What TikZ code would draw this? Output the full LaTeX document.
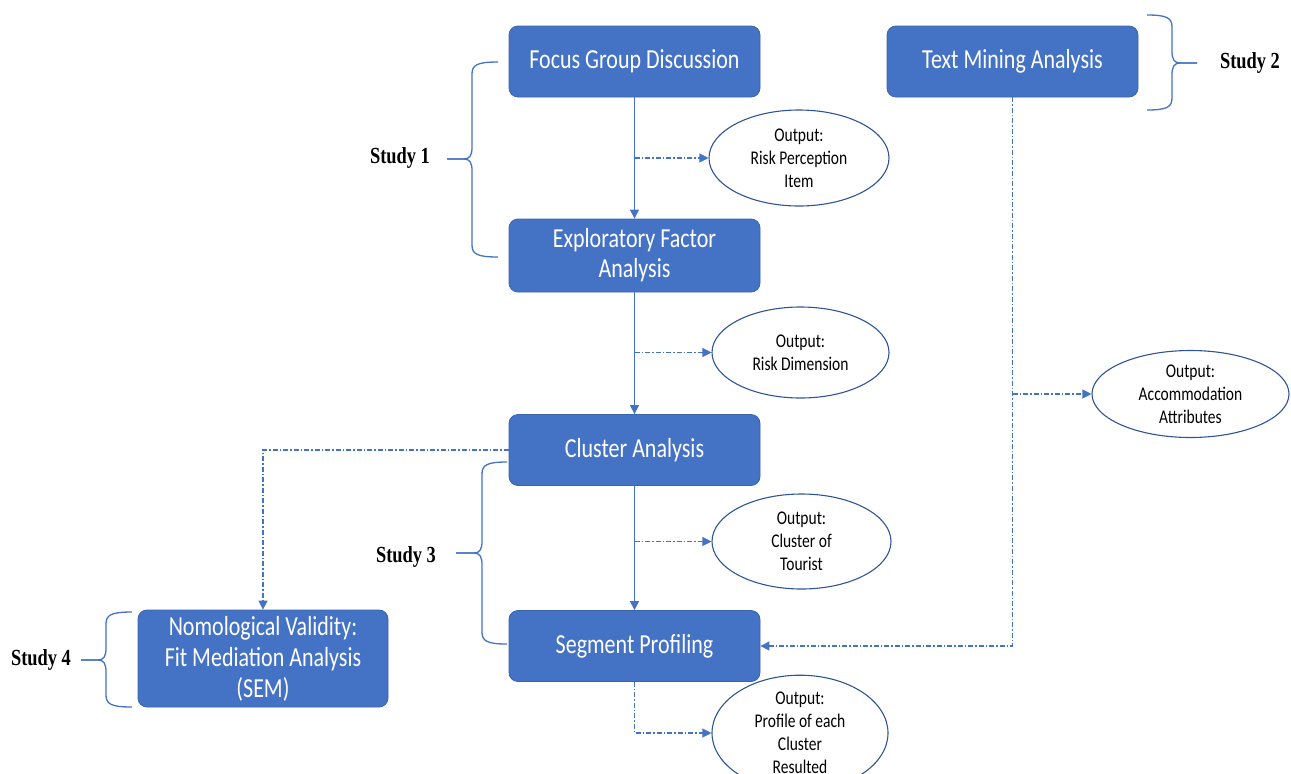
\documentclass[tikz,border=0pt]{standalone}
\usepackage{fontspec}
\setmainfont{Carlito}[FakeStretch=0.8]
\newfontfamily\timesf{Liberation Serif}[FakeStretch=0.8]
\usetikzlibrary{shapes.geometric,arrows.meta}
\definecolor{boxblue}{HTML}{4472C4}
\definecolor{edgeblue}{HTML}{3B64AE}
\definecolor{lineblue}{HTML}{4472C4}
\definecolor{ellblue}{HTML}{2F5597}
\newcommand\studybrace[7]{%
  \draw[bracestyle] (#1,#5) -- ({#2-8*(#7)},#5) .. controls ({#2-2*(#7)},#5) and (#2,{#5-4}) .. (#2,{#5-12}) -- (#2,{#4+12}) .. controls (#2,{#4+3}) and ({#2+5*(#7)},#4) .. (#3,#4);
  \draw[bracestyle] (#1,#5) -- ({#2-8*(#7)},#5) .. controls ({#2-2*(#7)},#5) and (#2,{#5+4}) .. (#2,{#5+12}) -- (#2,{#6-12}) .. controls (#2,{#6-3}) and ({#2+5*(#7)},#6) .. (#3,#6);
}
\begin{document}
\begin{tikzpicture}[x=1pt,y=-1pt,
  stepbox/.style={draw=edgeblue, line width=0.8pt, fill=boxblue, rounded corners=9pt,
    text=white, align=center, inner sep=0pt, minimum width=251pt, minimum height=71pt,
    font=\fontsize{27.5}{30}\selectfont},
  outbox/.style={ellipse, draw=ellblue, line width=1.1pt, fill=white, align=center, inner sep=0pt,
    font=\fontsize{19.4}{23}\selectfont},
  studylbl/.style={font=\timesf\bfseries\fontsize{23}{26}\selectfont, inner sep=0pt},
  bracestyle/.style={draw=lineblue, line width=1.3pt},
  solidarrow/.style={draw=lineblue, line width=1.2pt, -{Triangle[length=9pt,width=9pt]}},
  dashline/.style={draw=lineblue, line width=1.1pt, dash pattern=on 5pt off 2pt on 1.5pt off 2pt},
  dasharrow/.style={dashline, -{Triangle[length=9pt,width=9pt]}}
]
\useasboundingbox (0,0) rectangle (1291,774);

% process boxes
\node[stepbox] (fgd) at (634.5,61.5) {Focus Group Discussion};
\node[stepbox] (tma) at (1012.5,61.5) {Text Mining Analysis};
\node[stepbox, minimum height=73pt] (efa) at (634.5,255.5) {Exploratory Factor\\Analysis};
\node[stepbox] (ca) at (634.5,450) {Cluster Analysis};
\node[stepbox] (sp) at (634.5,646) {Segment Profiling};
\node[stepbox, minimum width=250pt, minimum height=97pt, font=\fontsize{27.5}{31}\selectfont] (nv) at (263,658.5) {Nomological Validity:\\Fit Mediation Analysis\\(SEM)};

% outputs
\node[outbox, minimum width=180pt, minimum height=96pt] (o1) at (799,158) {Output:\\Risk Perception\\Item};
\node[outbox, minimum width=177pt, minimum height=91pt] (o2) at (800.5,352.5) {Output:\\Risk Dimension};
\node[outbox, minimum width=197pt, minimum height=87pt] (o3) at (1190.5,394) {Output:\\Accommodation\\Attributes};
\node[outbox, minimum width=179pt, minimum height=95pt] (o4) at (801.5,541.5) {Output:\\Cluster of\\Tourist};
\node[outbox, minimum width=176pt, minimum height=94pt] (o5) at (800,733) {Output:\\Profile of each\\Cluster\\Resulted};

% main flow
\draw[solidarrow] (fgd) -- (efa);
\draw[solidarrow] (efa) -- (ca);
\draw[solidarrow] (ca) -- (sp);

% outputs
\draw[dasharrow] (fgd.south |- o1.west) -- (o1.west);
\draw[dasharrow] (efa.south |- o2.west) -- (o2.west);
\draw[dasharrow] (ca.south |- o4.west) -- (o4.west);
\draw[dasharrow] (sp.south) |- (o5.west);
\draw[dasharrow] (tma.south |- o3.west) -- (o3.west);
\draw[dasharrow] (tma.south) |- (sp.east);
\draw[dasharrow] (ca.west) -| (nv.north);

% study braces
\studybrace{447}{472}{498}{62}{159}{257}{1}
\node[studylbl] (s1) at (400,158) {Study 1};
\studybrace{1197}{1172}{1147}{15}{63}{110}{-1}
\node[studylbl] (s2) at (1250,63) {Study 2};
\studybrace{456}{482}{507}{462}{553}{644}{1}
\node[studylbl] (s3) at (406,557) {Study 3};
\studybrace{81}{106}{132}{612}{660}{707}{1}
\node[studylbl] (s4) at (41,660) {Study 4};
\end{tikzpicture}
\end{document}
